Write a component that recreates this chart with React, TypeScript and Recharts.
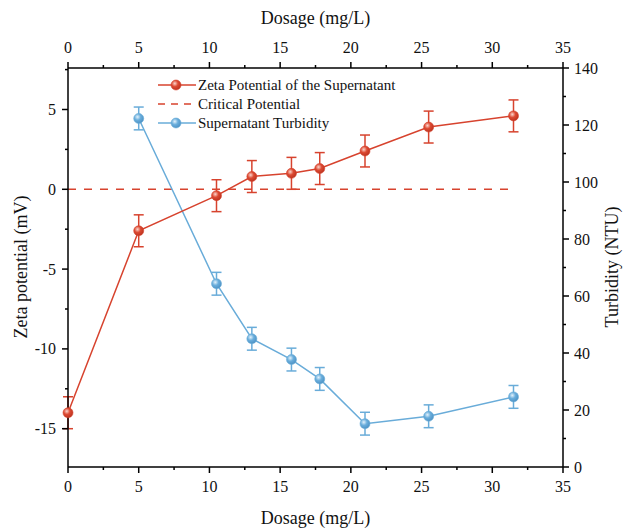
import React from 'react';
import { LineChart, Line, XAxis, YAxis, ErrorBar } from 'recharts';

const RED = '#d7432e';
const BLUE = '#69acd9';
const FONT = '"Liberation Serif", "Times New Roman", serif';

const dosage = [0, 5, 10.5, 13, 15.8, 17.8, 21, 25.5, 31.5];
const zeta = [-14.0, -2.6, -0.4, 0.8, 1.0, 1.3, 2.4, 3.9, 4.6];
const zetaErr = [1, 1, 1, 1, 1, 1, 1, 1, 1];
const critical = [0, 0, 0, 0, 0, 0, 0, 0, 0];
const turbidity = [null, 122.3, 64.3, 45.0, 37.7, 30.9, 15.2, 17.8, 24.6];
const turbErr = [null, 4, 4, 4, 4, 4, 4, 4, 4];

const xTicks = [0, 2.5, 5, 7.5, 10, 12.5, 15, 17.5, 20, 22.5, 25, 27.5, 30, 32.5, 35];
const zetaTicks = [-15, -12.5, -10, -7.5, -5, -2.5, 0, 2.5, 5, 7.5];
const turbTicks = [0, 10, 20, 30, 40, 50, 60, 70, 80, 90, 100, 110, 120, 130, 140];

const rows = dosage.map((d, i) => ({
  dosage: d,
  zeta: zeta[i],
  zetaErr: zetaErr[i],
  critical: critical[i],
  turbidity: turbidity[i],
  turbErr: turbErr[i],
}));

const legendItems = [
  { name: 'Zeta Potential of the Supernatant', color: RED, dashed: false, ball: 'ballRed' },
  { name: 'Critical Potential', color: RED, dashed: true, ball: '' },
  { name: 'Supernatant Turbidity', color: BLUE, dashed: false, ball: 'ballBlue' },
];

const label = (x: number, y: number, text: string, anchor: string) => (
  <text x={x} y={y} textAnchor={anchor} fontFamily={FONT} fontSize={16} fill="#111">
    {text}
  </text>
);

const BottomTick = (props: any) => {
  const { x, y, payload } = props;
  const major = payload.value % 5 === 0;
  return (
    <g>
      <line x1={x} x2={x} y1={y} y2={y + (major ? 6 : 3)} stroke="#000" strokeWidth={1.5} />
      {major && label(x, y + 25, String(payload.value), 'middle')}
    </g>
  );
};

const TopTick = (props: any) => {
  const { x, y, payload } = props;
  const major = payload.value % 5 === 0;
  return (
    <g>
      <line x1={x} x2={x} y1={y} y2={y - (major ? 6 : 3)} stroke="#000" strokeWidth={1.5} />
      {major && label(x, y - 15, String(payload.value), 'middle')}
    </g>
  );
};

const LeftTick = (props: any) => {
  const { x, y, payload } = props;
  const major = payload.value % 5 === 0;
  return (
    <g>
      <line x1={x} x2={x - (major ? 6 : 3)} y1={y} y2={y} stroke="#000" strokeWidth={1.5} />
      {major && label(x - 12, y + 5.5, String(payload.value), 'end')}
    </g>
  );
};

const RightTick = (props: any) => {
  const { x, y, payload } = props;
  const major = payload.value % 20 === 0;
  return (
    <g>
      <line x1={x} x2={x + (major ? 6 : 3)} y1={y} y2={y} stroke="#000" strokeWidth={1.5} />
      {major && label(x + 11, y + 5.5, String(payload.value), 'start')}
    </g>
  );
};

const ballDot = (id: string, color: string) => (props: any) => {
  const { cx, cy, index } = props;
  if (cx == null || cy == null || Number.isNaN(cy)) return <g key={index} />;
  return (
    <circle key={index} cx={cx} cy={cy} r={5} fill={`url(#${id})`} stroke={color} strokeWidth={0.6} />
  );
};

const axisLine = { stroke: '#000', strokeWidth: 1.5 };

export default function App() {
  return (
    <div style={{ position: 'relative', width: 627, height: 529, background: '#fff' }}>
      <style>{'body{margin:0}'}</style>
      <LineChart width={627} height={529} data={rows} margin={{ top: 38, right: 4, bottom: 32, left: 8 }}>
        <XAxis
          xAxisId="bottom"
          dataKey="dosage"
          type="number"
          domain={[0, 35]}
          ticks={xTicks}
          interval={0}
          tickSize={0}
          tickMargin={0}
          tickLine={false}
          axisLine={axisLine}
          tick={<BottomTick />}
          height={30}
        />
        <XAxis
          xAxisId="top"
          orientation="top"
          dataKey="dosage"
          type="number"
          domain={[0, 35]}
          ticks={xTicks}
          interval={0}
          tickSize={0}
          tickMargin={0}
          tickLine={false}
          axisLine={axisLine}
          tick={<TopTick />}
          height={30}
        />
        <YAxis
          yAxisId="zeta"
          type="number"
          domain={[-17.4, 7.6]}
          ticks={zetaTicks}
          interval={0}
          tickSize={0}
          tickMargin={0}
          tickLine={false}
          axisLine={axisLine}
          tick={<LeftTick />}
          width={60}
          allowDataOverflow
        />
        <YAxis
          yAxisId="turb"
          orientation="right"
          type="number"
          domain={[0, 140]}
          ticks={turbTicks}
          interval={0}
          tickSize={0}
          tickMargin={0}
          tickLine={false}
          axisLine={axisLine}
          tick={<RightTick />}
          width={60}
          allowDataOverflow
        />
        <Line
          xAxisId="bottom"
          yAxisId="zeta"
          dataKey="critical"
          stroke={RED}
          strokeWidth={1.5}
          strokeDasharray="8 8"
          dot={false}
          activeDot={false}
          isAnimationActive={false}
        />
        <Line
          xAxisId="bottom"
          yAxisId="turb"
          dataKey="turbidity"
          stroke={BLUE}
          strokeWidth={1.5}
          dot={ballDot('ballBlue', BLUE)}
          activeDot={false}
          isAnimationActive={false}
        >
          <ErrorBar dataKey="turbErr" direction="y" width={5} stroke={BLUE} strokeWidth={1.5} isAnimationActive={false} />
        </Line>
        <Line
          xAxisId="bottom"
          yAxisId="zeta"
          dataKey="zeta"
          stroke={RED}
          strokeWidth={1.5}
          dot={ballDot('ballRed', RED)}
          activeDot={false}
          isAnimationActive={false}
        >
          <ErrorBar dataKey="zetaErr" direction="y" width={5} stroke={RED} strokeWidth={1.5} isAnimationActive={false} />
        </Line>
      </LineChart>

      <svg
        width={627}
        height={529}
        style={{ position: 'absolute', left: 0, top: 0, pointerEvents: 'none' }}
      >
        <defs>
          <radialGradient id="ballRed" cx="38%" cy="35%" r="70%">
            <stop offset="0%" stopColor="#fbd6cd" />
            <stop offset="45%" stopColor="#dd4a33" />
            <stop offset="100%" stopColor="#b8301d" />
          </radialGradient>
          <radialGradient id="ballBlue" cx="38%" cy="35%" r="70%">
            <stop offset="0%" stopColor="#e3f2fc" />
            <stop offset="45%" stopColor="#6aaedc" />
            <stop offset="100%" stopColor="#4a8fc2" />
          </radialGradient>
        </defs>

        <text x={315.5} y={24} textAnchor="middle" fontFamily={FONT} fontSize={18} fill="#111">
          Dosage (mg/L)
        </text>
        <text x={315.5} y={524} textAnchor="middle" fontFamily={FONT} fontSize={18} fill="#111">
          Dosage (mg/L)
        </text>
        <text
          transform="translate(27,267) rotate(-90)"
          textAnchor="middle"
          fontFamily={FONT}
          fontSize={18}
          fill="#111"
        >
          Zeta potential (mV)
        </text>
        <text
          transform="translate(618,267) rotate(-90)"
          textAnchor="middle"
          fontFamily={FONT}
          fontSize={18}
          fill="#111"
        >
          Turbidity (NTU)
        </text>

        {legendItems.map((item, i) => {
          const y = 85 + i * 19;
          return (
            <g key={item.name}>
              <line
                x1={158}
                x2={196}
                y1={y}
                y2={y}
                stroke={item.color}
                strokeWidth={1.5}
                strokeDasharray={item.dashed ? '7 6' : undefined}
              />
              {item.ball && (
                <circle cx={176} cy={y} r={5} fill={`url(#${item.ball})`} stroke={item.color} strokeWidth={0.6} />
              )}
              <text x={198} y={y + 5} fontFamily={FONT} fontSize={15} fill="#111">
                {item.name}
              </text>
            </g>
          );
        })}
      </svg>
    </div>
  );
}
